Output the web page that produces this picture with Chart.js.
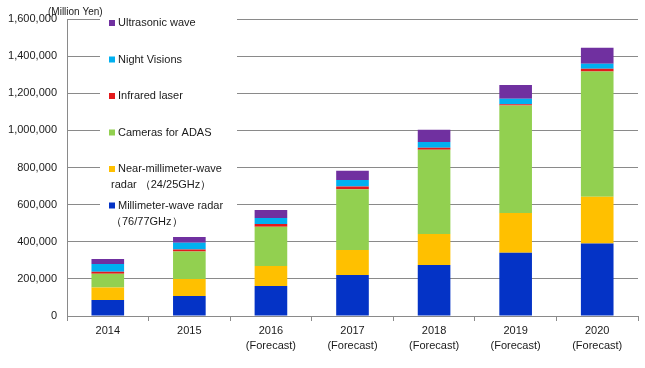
<!DOCTYPE html>
<html>
<head>
<meta charset="utf-8">
<script src="https://cdn.jsdelivr.net/npm/chart.js@4"></script>
<style>
  html, body { margin: 0; padding: 0; background: #fff; }
  #wrap { width: 645px; height: 368px; }
</style>
</head>
<body>
<div id="wrap"><canvas id="chart"></canvas></div>
<script>
const years = [['2014'], ['2015'], ['2016', '(Forecast)'], ['2017', '(Forecast)'],
    ['2018', '(Forecast)'], ['2019', '(Forecast)'], ['2020', '(Forecast)']];

// million yen, stacked from the bottom up
const milliWave = [86000, 108000, 162000, 221000, 275000, 341000, 390000];
const nearMilliWave = [67000, 91000, 108000, 135000, 167000, 214000, 252000];
const cameras = [75000, 148000, 211000, 327000, 453000, 579000, 675000];
const infrared = [11000, 11000, 15000, 14000, 11000, 7000, 15000];
const nightVision = [41000, 36000, 32000, 36000, 32000, 30000, 27000];
const ultrasonic = [27000, 32000, 43000, 49000, 65000, 74000, 86000];

const seriesNames = [
    ['Millimeter-wave radar', '\uFF0876/77GHz\uFF09'],
    ['Near-millimeter-wave', 'radar \uFF0824/25GHz\uFF09'],
    ['Cameras for ADAS'],
    ['Infrared laser'],
    ['Night Visions'],
    ['Ultrasonic wave']
];
const colors = ['#0433c6', '#ffc000', '#92d050', '#e31a1c', '#00b0f0', '#7030a0'];
const seriesData = [milliWave, nearMilliWave, cameras, infrared, nightVision, ultrasonic];

const FONT = '"Liberation Sans", Arial, sans-serif';

// legend drawn inside the plot, top item = last series
const sideLegend = {
    id: 'sideLegend',
    afterDraw(chart) {
        const ctx = chart.ctx;
        const top = chart.chartArea.top;
        ctx.save();
        ctx.fillStyle = '#fff';
        ctx.fillRect(100, top - 7, 137, 216);

        ctx.font = '11px ' + FONT;
        ctx.textBaseline = 'middle';
        const n = chart.data.datasets.length;
        for (let i = 0; i < n; i++) {
            const ds = chart.data.datasets[n - 1 - i];
            const y = top + 4 + i * 36.5;
            ctx.fillStyle = ds.backgroundColor;
            ctx.fillRect(109, y - 3, 6, 6);
            ctx.fillStyle = '#1a1a1a';
            ds.label.forEach((line, j) => {
                ctx.fillText(line, j === 0 ? 118 : 111, y + j * 16);
            });
        }

        ctx.font = '10px ' + FONT;
        ctx.fillStyle = '#1a1a1a';
        ctx.fillText('(Million Yen)', 48, 12);
        ctx.restore();
    }
};

new Chart(document.getElementById('chart'), {
    type: 'bar',
    data: {
        labels: years,
        datasets: seriesData.map((d, i) => ({
            label: seriesNames[i],
            data: d,
            backgroundColor: colors[i],
            barPercentage: 0.4,
            categoryPercentage: 1
        }))
    },
    options: {
        responsive: true,
        maintainAspectRatio: false,
        animation: false,
        layout: { padding: { top: 19, right: 7, left: 0, bottom: 0 } },
        plugins: {
            legend: { display: false },
            tooltip: { enabled: false }
        },
        scales: {
            x: {
                stacked: true,
                afterFit: s => { s.height = 52; },
                grid: { drawOnChartArea: false, offset: true, tickLength: 5, color: '#8a8a8a' },
                border: { color: '#8a8a8a' },
                ticks: {
                    color: '#1a1a1a',
                    padding: 2,
                    font: { family: FONT, size: 11, lineHeight: 1.4 }
                }
            },
            y: {
                stacked: true,
                min: 0,
                max: 1600000,
                afterFit: s => { s.width = 67; },
                grid: { color: '#8a8a8a', drawTicks: false },
                border: { color: '#8a8a8a' },
                ticks: {
                    stepSize: 200000,
                    padding: 10,
                    color: '#1a1a1a',
                    font: { family: FONT, size: 11 },
                    callback: v => v.toLocaleString('en-US')
                }
            }
        }
    },
    plugins: [sideLegend]
});
</script>
</body>
</html>
